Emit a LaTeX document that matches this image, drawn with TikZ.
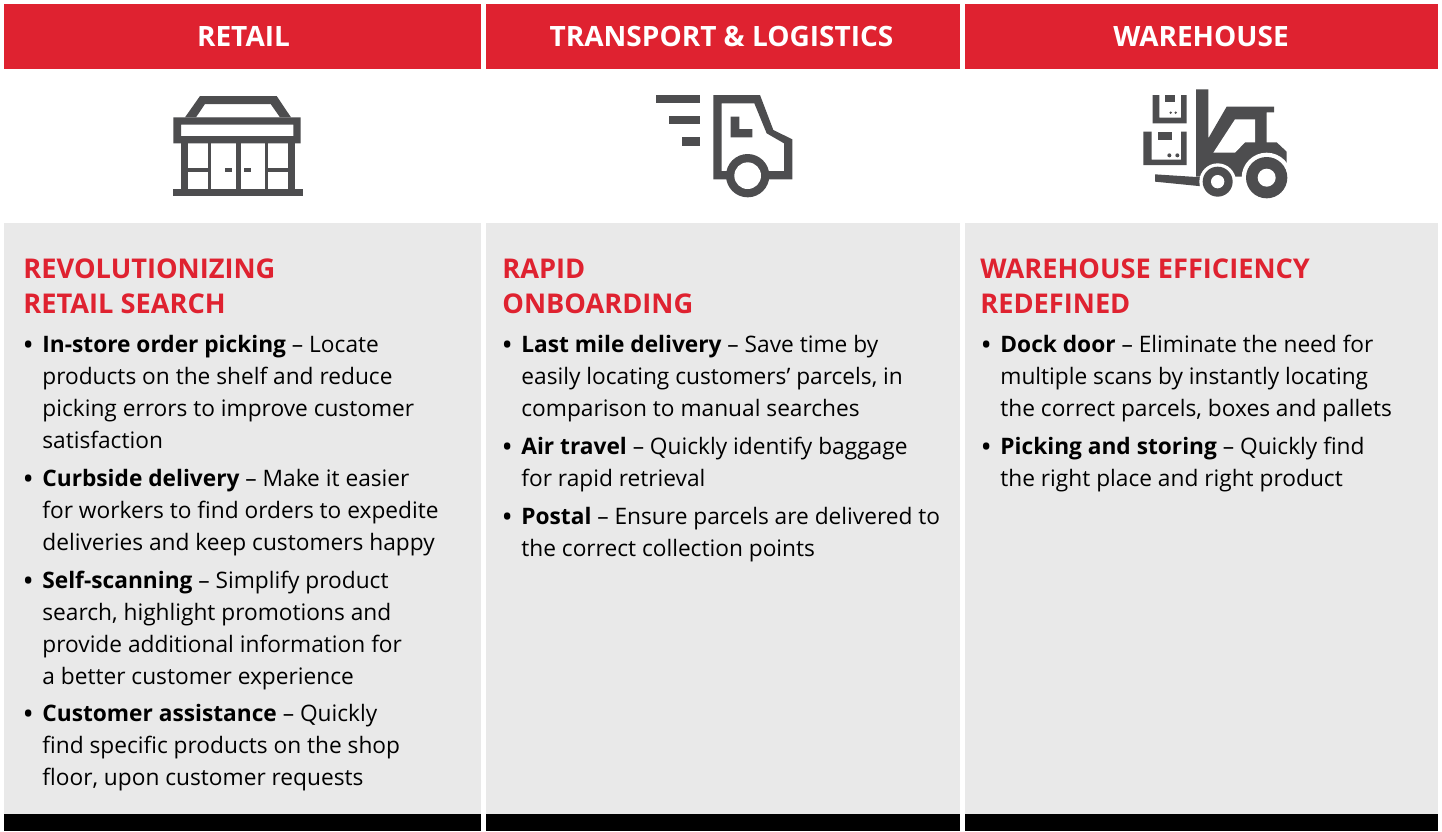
\documentclass[tikz,border=0pt]{standalone}
\usepackage{fontspec}
\setmainfont{Open Sans}
\definecolor{hred}{HTML}{DF2230}
\definecolor{hgray}{HTML}{E9E9E9}
\definecolor{hdark}{HTML}{4D4D4F}
\newcommand{\bodyfirst}{\rule{0pt}{14pt}\llap{\makebox[9.5pt][l]{\hspace{-0.4pt}\raisebox{-1.6pt}{\fontsize{15}{16}\selectfont •}}}}
\newcommand{\headfirst}{\rule{0pt}{14pt}}
\tikzset{
  band/.style={fill=hred,draw=none},
  panel/.style={fill=hgray,draw=none},
  foot/.style={fill=black,draw=none},
  icon/.style={fill=hdark,draw=none},
  cut/.style={fill=white,draw=none},
  headline/.style={text=white,font=\fontsize{14}{16}\selectfont\bfseries,inner sep=0pt,anchor=center},
  title/.style={text=hred,font=\fontsize{13.6}{17.5}\selectfont\bfseries,inner sep=0pt,anchor=north west,align=left},
  body/.style={text=black,font=\fontsize{11.35}{16}\selectfont,inner sep=0pt,anchor=north west,align=left}
}
\begin{document}
\begin{tikzpicture}[x=0.5pt,y=-0.5pt]
\useasboundingbox (0,0) rectangle (1442,831);
% columns
\foreach \l/\r in {4/481,486/960,965/1438}{
  \fill[band] (\l,4) rectangle (\r,69);
  \fill[panel] (\l,223) rectangle (\r,814);
  \fill[foot] (\l,814) rectangle (\r,831);
}
\node[headline] (h1) at (243.5,36.5) {RETAIL};
\node[headline] (h2) at (721.5,36.5) {TRANSPORT \& LOGISTICS};
\node[headline] (h3) at (1201,36.5) {WAREHOUSE};
% store icon
\begin{scope}[shift={(150,80)},scale=1/3]
\fill[icon,even odd rule] (105,112)--(150,48)--(380,48)--(423,112)--cycle (138,112)--(165,72)--(362,72)--(390,112)--cycle;
\fill[icon,even odd rule] (70,112) rectangle (452,190) (93,134) rectangle (430,168);
\fill[icon] (93,190) rectangle (115,327);
\fill[icon] (413,190) rectangle (436,327);
\fill[icon] (70,327) rectangle (458,349);
\fill[icon] (173,190) rectangle (184,327);
\fill[icon] (258,190) rectangle (272,327);
\fill[icon] (344,190) rectangle (355,327);
\fill[icon] (115,264) rectangle (173,275);
\fill[icon] (355,264) rectangle (413,275);
\fill[icon] (225,264) rectangle (247,275);
\fill[icon] (282,264) rectangle (304,275);
\end{scope}
% truck icon
\begin{scope}[shift={(640,80)},scale=1/3]
\fill[icon] (47,45) rectangle (180,70);
\fill[icon] (87,108) rectangle (180,133);
\fill[icon] (127,172) rectangle (180,197);
\fill[icon,even odd rule] (220,45)--(360,45)--(400,150)--(457,178)--(457,298)--(220,298)--cycle
  (245,70)--(343,70)--(380,160)--(432,190)--(432,273)--(245,273)--cycle;
\fill[icon] (272,110)--(298,110)--(298,147)--(337,147)--(337,172)--(272,172)--cycle;
\fill[icon] (323,287) circle[radius=65];
\fill[cut] (323,287) circle[radius=40];
\end{scope}
% forklift icon
\begin{scope}[shift={(1130,80)},scale=1/3]
\fill[icon] (68,45)--(88,45)--(88,113)--(153,113)--(153,45)--(170,45)--(170,130)--(68,130)--cycle;
\fill[icon] (105,45) rectangle (135,65);
\fill[icon] (122,98) circle[radius=4];
\fill[icon] (137,98) circle[radius=4];
\fill[icon] (40,155)--(65,155)--(65,239)--(153,239)--(153,155)--(170,155)--(170,255)--(40,255)--cycle;
\fill[icon] (83,155) rectangle (125,180);
\fill[icon] (118,226) circle[radius=6];
\fill[icon] (142,226) circle[radius=6];
\fill[icon] (75,283)--(215,292)--(225,320)--(75,305)--cycle;
\fill[icon] (198,28)--(235,28)--(235,175)--(290,80)--(432,80)--(432,97)--(410,97)--(410,187)--(440,187)--(470,215)--(470,250)--(350,290)--(198,290)--cycle;
\fill[cut] (250,218)--(315,118)--(375,118)--(375,187)--(345,187)--(315,218)--cycle;
\fill[cut] (263,305) circle[radius=55];
\fill[cut] (410,293) circle[radius=75];
\fill[icon] (263,305) circle[radius=45];
\fill[cut] (263,305) circle[radius=20];
\fill[icon] (410,293) circle[radius=62];
\fill[cut] (410,293) circle[radius=27];
\end{scope}
% titles
\node[title] (t1) at (23,250.5) {\headfirst REVOLUTIONIZING\\RETAIL SEARCH};
\node[title] (t2) at (502,250.5) {\headfirst RAPID\\ONBOARDING};
\node[title] (t3) at (980,250.5) {\headfirst WAREHOUSE EFFICIENCY\\REDEFINED};
% retail
\node[body] (r1) at (42,324) {\bodyfirst\textbf{In-store order picking} – Locate\\products on the shelf and reduce\\picking errors to improve customer\\satisfaction};
\node[body] (r2) at (42,458) {\bodyfirst\textbf{Curbside delivery} – Make it easier\\for workers to find orders to expedite\\deliveries and keep customers happy};
\node[body] (r3) at (42,560) {\bodyfirst\textbf{Self-scanning} – Simplify product\\search, highlight promotions and\\provide additional information for\\a better customer experience};
\node[body] (r4) at (42,693) {\bodyfirst\textbf{Customer assistance} – Quickly\\find specific products on the shop\\floor, upon customer requests};
% transport
\node[body] (l1) at (521,324) {\bodyfirst\textbf{Last mile delivery} – Save time by\\easily locating customers’ parcels, in\\comparison to manual searches};
\node[body] (l2) at (521,426) {\bodyfirst\textbf{Air travel} – Quickly identify baggage\\for rapid retrieval};
\node[body] (l3) at (521,496) {\bodyfirst\textbf{Postal} – Ensure parcels are delivered to\\the correct collection points};
% warehouse
\node[body] (w1) at (1000,324) {\bodyfirst\textbf{Dock door} – Eliminate the need for\\multiple scans by instantly locating\\the correct parcels, boxes and pallets};
\node[body] (w2) at (1000,426) {\bodyfirst\textbf{Picking and storing} – Quickly find\\the right place and right product};
\end{tikzpicture}
\end{document}
